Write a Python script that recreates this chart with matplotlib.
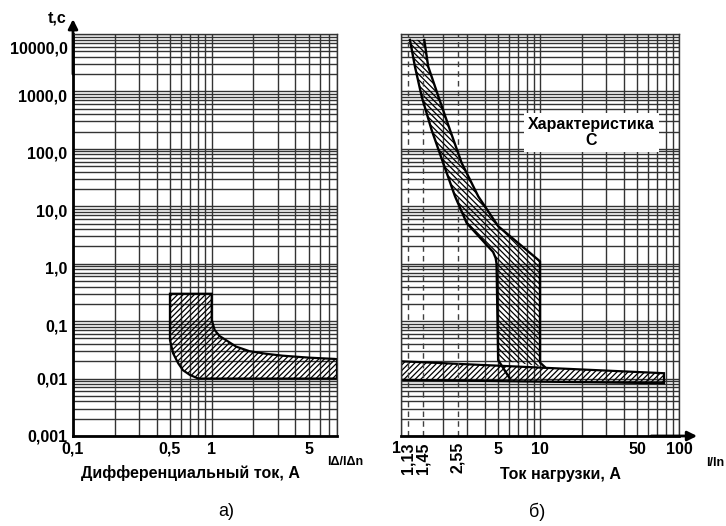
import numpy as np
import matplotlib
matplotlib.use("Agg")
import matplotlib.pyplot as plt
from matplotlib.ticker import LogLocator, NullFormatter
from matplotlib.transforms import ScaledTranslation

plt.rcParams['font.family'] = ['Liberation Sans', 'DejaVu Sans']
plt.rcParams['font.weight'] = 'bold'
plt.rcParams['hatch.linewidth'] = 0.9

# time axis, shared by both panels
t_ticks = [0.001, 0.01, 0.1, 1, 10, 100, 1000, 10000]
t_labels = ['0,001', '0,01', '0,1', '1,0', '10,0', '100,0', '1000,0', '10000,0']

# panel a) - differential current
a_ticks = [0.1, 0.5, 1, 5]
a_labels = ['0,1', '0,5', '1', '5']
a_top_x = [0.5, 1.0, 1.0, 1.05, 1.14, 1.28, 1.5, 1.87, 2.47, 3.26, 5.07, 7.66, 8.0]
a_top_y = [0.3, 0.3, 0.105, 0.07, 0.055, 0.046, 0.036, 0.030, 0.027, 0.025, 0.0231, 0.022, 0.0218]
a_bot_x = [0.5, 0.5, 0.5, 0.527, 0.573, 0.62, 0.695, 0.80, 8.0]
a_bot_y = [0.3, 0.1, 0.047, 0.0275, 0.0185, 0.014, 0.0116, 0.01, 0.01]

# panel b) - load current, characteristic C
b_ticks = [5, 10, 50, 100]
b_labels = ['5', '10', '50', '100']
b_marks = [1.13, 1.45, 2.55]
b_mark_labels = ['1,13', '1,45', '2,55']
c_min_x = [1.16, 1.26, 1.41, 1.66, 2.01, 2.45, 2.97, 4.6, 4.8, 4.87, 5.0, 6.07]
c_min_y = [7900, 2700, 810, 214, 57, 14.8, 5.1, 1.6, 1.25, 1.0, 0.021, 0.01]
c_max_x = [1.47, 1.57, 1.86, 2.25, 2.73, 3.6, 5.0, 10.0, 10.0, 10.8]
c_max_y = [7900, 2700, 810, 214, 57, 14.8, 4.5, 1.1, 0.019, 0.016]
inst_x = [1, 78]
inst_top_y = [0.02, 0.0124]
inst_bot_y = [0.0095, 0.0083]

W, H = 726, 526
fig = plt.figure(figsize=(W / 100, H / 100), dpi=100)


def px(x, y):
    return x / W, 1 - y / H


ax1 = fig.add_axes([73 / W, 1 - 436 / H, 264 / W, 402 / H])
ax2 = fig.add_axes([401 / W, 1 - 436 / H, 278 / W, 402 / H])

for ax in (ax1, ax2):
    ax.set_xscale('log')
    ax.set_yscale('log')
    ax.set_ylim(0.001, 10000)
    ax.set_yticks(t_ticks)
    ax.yaxis.set_minor_locator(LogLocator(subs=np.arange(1, 10), numticks=100))
    ax.xaxis.set_minor_locator(LogLocator(subs=np.arange(1, 10), numticks=100))
    ax.xaxis.set_minor_formatter(NullFormatter())
    ax.yaxis.set_minor_formatter(NullFormatter())
    ax.grid(True, which='both', color='0.2', lw=1.0)
    ax.set_axisbelow(True)
    ax.tick_params(which='both', length=0, labelsize=11.5, pad=4)
    for s in ax.spines.values():
        s.set_color('0.2')
        s.set_linewidth(1.0)
    ax.spines['bottom'].set_color('black')
    ax.spines['bottom'].set_linewidth(2)

# panel a
ax1.set_xlim(0.1, 8)
ax1.set_xticks(a_ticks, a_labels)
ax1.set_yticklabels(t_labels)
ax1.spines['left'].set_color('black')
ax1.spines['left'].set_linewidth(2)
ylabs = ax1.get_yticklabels()
for lab in ylabs[2:-1]:
    lab.set_transform(lab.get_transform() + ScaledTranslation(0, -0.04, fig.dpi_scale_trans))
ylabs[-1].set_transform(ylabs[-1].get_transform() + ScaledTranslation(0, -0.13, fig.dpi_scale_trans))
ax1.fill(a_top_x + a_bot_x[::-1], a_top_y + a_bot_y[::-1],
         facecolor='none', edgecolor='black', hatch='//////', lw=1.6)
ax1.annotate('', xy=(0, 1.037), xytext=(0, 0.9), xycoords='axes fraction',
             arrowprops=dict(arrowstyle='-|>', color='black', lw=2,
                             mutation_scale=14, shrinkA=0, shrinkB=0),
             annotation_clip=False)

# panel b
ax2.set_xlim(1, 100)
ax2.set_xticks(b_ticks, b_labels)
ax2.tick_params(axis='y', labelleft=False)
ax2.text(1, -0.012, '1', transform=ax2.get_xaxis_transform(), ha='right', va='top',
         fontsize=11.5)
for m, lab in zip(b_marks, b_mark_labels):
    ax2.axvline(m, color='0.25', lw=1, ls=(0, (4, 3)))
    ax2.text(m, -0.015, lab, transform=ax2.get_xaxis_transform(), rotation=90,
             ha='center', va='top', fontsize=11.5)

cut = c_min_y.index(0.021) + 1
ax2.fill(c_min_x[:cut] + c_max_x[::-1], c_min_y[:cut] + c_max_y[::-1],
         facecolor='none', edgecolor='black', hatch='\\\\\\\\\\\\', lw=0)
ax2.plot(c_min_x, c_min_y, color='black', lw=1.7)
ax2.plot(c_max_x, c_max_y, color='black', lw=1.7)
ax2.fill(inst_x + inst_x[::-1], inst_top_y + inst_bot_y[::-1],
         facecolor='none', edgecolor='black', hatch='//////', lw=1.6)
ax2.text(0.685, 0.755, 'Характеристика\nC', transform=ax2.transAxes, ha='center',
         va='center', fontsize=11.5, multialignment='center', linespacing=1.1,
         bbox=dict(facecolor='white', edgecolor='none', pad=3))
ax2.annotate('', xy=(1.065, 0), xytext=(0.9, 0), xycoords='axes fraction',
             arrowprops=dict(arrowstyle='-|>', color='black', lw=2,
                             mutation_scale=14, shrinkA=0, shrinkB=0),
             annotation_clip=False)

# texts
fig.text(*px(57, 18), 't,c', ha='center', va='center', fontsize=11.5)
fig.text(*px(190, 473), 'Дифференциальный ток, А', ha='center', va='center', fontsize=11.5)
fig.text(*px(345, 462), 'IΔ/IΔn', ha='center', va='center', fontsize=9)
fig.text(*px(560, 475), 'Ток нагрузки, А', ha='center', va='center', fontsize=11.5)
fig.text(*px(715, 463), 'I/In', ha='center', va='center', fontsize=9)
fig.text(*px(226, 512), 'а)', ha='center', va='center', fontsize=13, fontweight='normal')
fig.text(*px(537, 512), 'б)', ha='center', va='center', fontsize=13, fontweight='normal')

fig.savefig('out.png', dpi=100)
